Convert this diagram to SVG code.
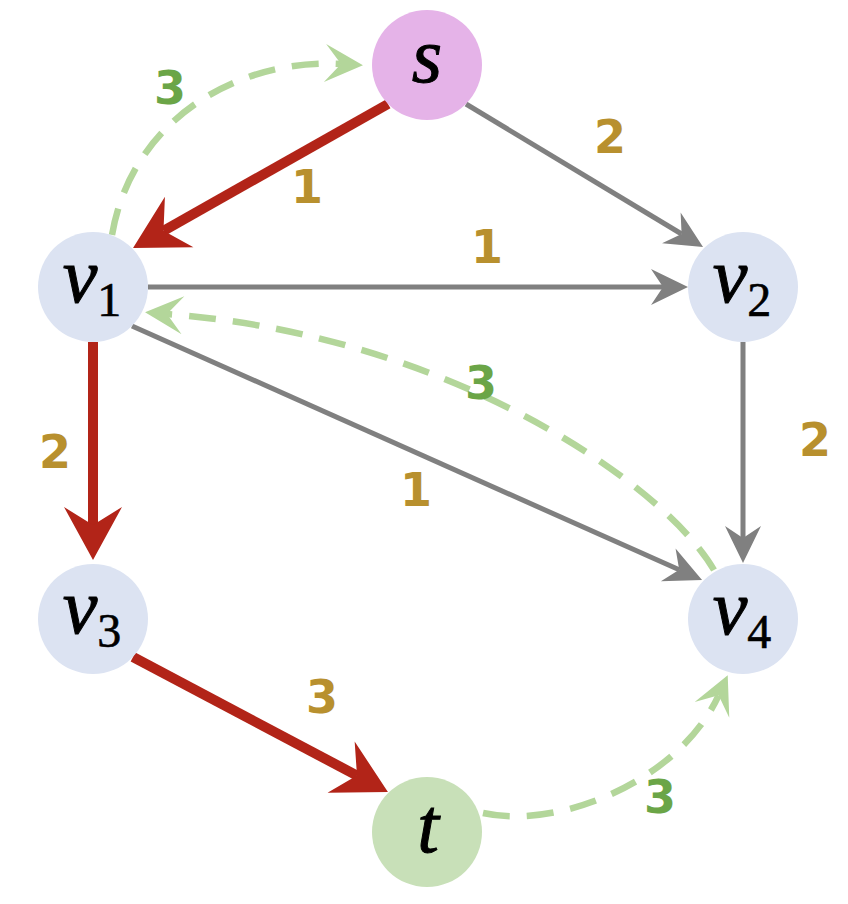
<svg xmlns="http://www.w3.org/2000/svg" width="848" height="904" viewBox="0 0 848 904">
<style>
.gray{fill:none;stroke:#808080;stroke-width:5}
.red{fill:none;stroke:#B22418;stroke-width:10}
.dash{fill:none;stroke:#B3D69A;stroke-width:6.5;stroke-dasharray:27 17}
.nl{font-family:"Liberation Serif",serif;font-style:italic;font-size:78px;fill:#000;stroke:#000;stroke-width:1;text-anchor:middle}
.sub{font-style:normal;font-size:48px;stroke-width:0.6}
.w{font-family:"DejaVu Sans",sans-serif;font-weight:bold;font-size:46px;fill:#B8902E;text-anchor:middle}
.g{fill:#6BA547}
</style>
<defs>
<marker id="ag" markerUnits="userSpaceOnUse" markerWidth="80" markerHeight="80" viewBox="-40 -40 80 80" refX="0" refY="0" orient="auto" overflow="visible">
<path d="M25,0 L-12,-18 L0,0 L-12,18 Z" fill="#808080"/>
</marker>
<marker id="ar" markerUnits="userSpaceOnUse" markerWidth="100" markerHeight="100" viewBox="-50 -50 100 100" refX="0" refY="0" orient="auto" overflow="visible">
<path d="M35,0 L-18,-29 L0,0 L-18,29 Z" fill="#B22418"/>
</marker>
<marker id="agr" markerUnits="userSpaceOnUse" markerWidth="80" markerHeight="80" viewBox="-40 -40 80 80" refX="0" refY="0" orient="auto" overflow="visible">
<path d="M22,0 L-16,-19 L0,0 L-16,19 Z" fill="#B3D69A"/>
</marker>
</defs>
<g id="connectors">
<path class="gray" d="M466,104 L681.6,234" marker-end="url(#ag)"/>
<path class="gray" d="M148,287 L663,287" marker-end="url(#ag)"/>
<path class="gray" d="M132,326 L679.2,569.8" marker-end="url(#ag)"/>
<path class="gray" d="M743,342 L743,538" marker-end="url(#ag)"/>
<path class="red" d="M388,104 L163.5,230.8" marker-end="url(#ar)"/>
<path class="red" d="M93,342 L93,525" marker-end="url(#ar)"/>
<path class="red" d="M133,657 L357,775.6" marker-end="url(#ar)"/>
<path class="dash" d="M112,235 C132,118 240,58 341,64" marker-end="url(#agr)"/>
<path class="dash" d="M714,570 C665,485 450,335 167,314" marker-end="url(#agr)"/>
<path class="dash" d="M483,813 C560,830 680,780 718.6,695.3" marker-end="url(#agr)"/>
</g>
<g id="edge-labels">
<text class="w g" x="170" y="104">3</text>
<text class="w" x="307" y="203">1</text>
<text class="w" x="610" y="153">2</text>
<text class="w" x="487" y="263">1</text>
<text class="w g" x="481" y="399">3</text>
<text class="w" x="815" y="456">2</text>
<text class="w" x="55" y="468">2</text>
<text class="w" x="416" y="506">1</text>
<text class="w" x="322" y="713">3</text>
<text class="w g" x="660" y="813">3</text>
</g>
<g id="node-s">
<circle cx="427" cy="65" r="55" fill="#E5B3E8"/>
<text class="nl" x="427" y="82">s</text>
</g>
<g id="node-v1">
<circle cx="93" cy="287" r="55" fill="#DCE3F2"/>
<text class="nl" x="92" y="302">v<tspan class="sub" dy="14">1</tspan></text>
</g>
<g id="node-v2">
<circle cx="743" cy="287" r="55" fill="#DCE3F2"/>
<text class="nl" x="742" y="302">v<tspan class="sub" dy="14">2</tspan></text>
</g>
<g id="node-v3">
<circle cx="93" cy="619" r="55" fill="#DCE3F2"/>
<text class="nl" x="92" y="633">v<tspan class="sub" dy="14">3</tspan></text>
</g>
<g id="node-v4">
<circle cx="743" cy="619" r="55" fill="#DCE3F2"/>
<text class="nl" x="742" y="634">v<tspan class="sub" dy="14">4</tspan></text>
</g>
<g id="node-t">
<circle cx="427" cy="832" r="55" fill="#C8E0B8"/>
<text class="nl" x="428" y="852">t</text>
</g>
</svg>
